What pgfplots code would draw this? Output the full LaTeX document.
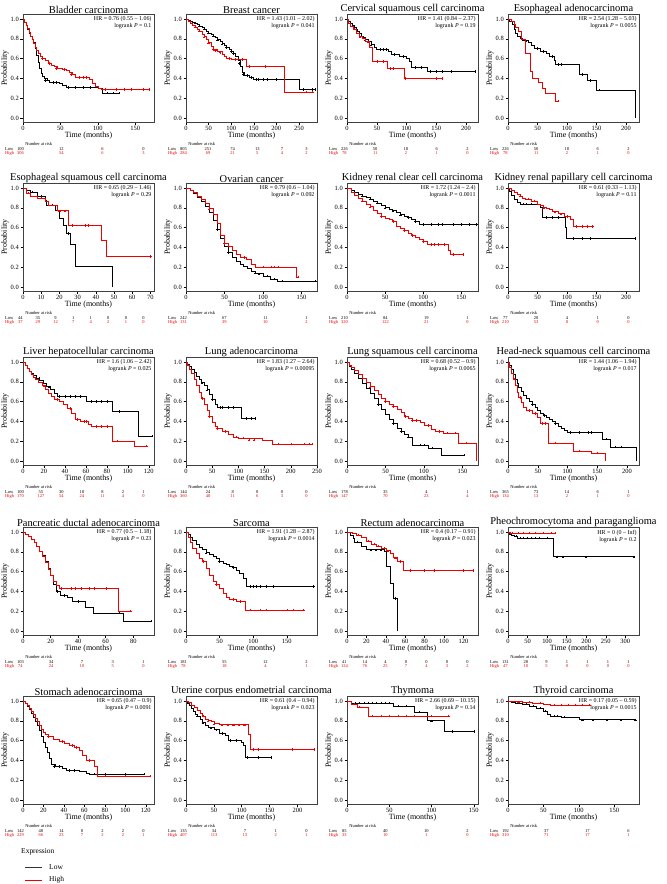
\documentclass[border=0pt]{standalone}
\usepackage{fontspec}
\setmainfont{Liberation Serif}
\usepackage{pgfplots}
\pgfplotsset{compat=1.18}
\usetikzlibrary{calc}
\definecolor{kmred}{RGB}{238,0,0}
\pgfplotsset{
 km/.style={
  scale only axis, width=131bp, height=108bp, anchor=north west,
  xmin=0, ymin=-0.04, ymax=1.05,
  ytick={0,0.2,0.4,0.6,0.8,1},
  yticklabel style={/pgf/number format/.cd, fixed, fixed zerofill, precision=1},
  /pgf/number format/assume math mode=true,
  tick label style={font=\fontsize{6.5}{7}\selectfont, inner sep=1.5bp},
  tick pos=left, tick align=outside, major tick length=2.5bp,
  axis line style={line width=0.9pt, black!75},
  every tick/.style={black, line width=0.5pt},
  xlabel={Time (months)}, ylabel={Probability},
  label style={font=\fontsize{8}{9}\selectfont},
  xlabel style={yshift=4bp}, ylabel style={yshift=-3bp},
  title style={font=\fontsize{10.5}{12}\selectfont, inner sep=1bp, yshift=-6.5pt},
  clip mode=individual,
 }
}
\tikzset{rk/.style={font=\fontsize{4.5}{5}\selectfont, inner sep=0pt}}
\newcommand{\km}[3]{%
 \addplot[const plot, #1, line width=0.6pt, mark=none] coordinates {#2};
 \addplot[only marks, mark=+, mark size=1.2pt, #1, mark options={line width=0.4pt}] coordinates {#3};}
\newcommand{\hr}[2]{\node[anchor=north east, font=\fontsize{6}{7}\selectfont, align=right, inner sep=1bp] at (rel axis cs:0.99,0.985) {HR = #1\\logrank \textit{P} = #2};}
\newcommand{\risktable}[3]{%
 \foreach \v [count=\k] in {#2} {\xdef\rkn{\k}}%
 \foreach \v [count=\k] in {#2} {\node[rk] at ($(#1.south west)!{-0.02+0.94*(\k-1)/(\rkn-1)}!(#1.south east)+(0,-27bp)$) {\v};}%
 \foreach \v [count=\k] in {#3} {\node[rk,kmred] at ($(#1.south west)!{-0.02+0.94*(\k-1)/(\rkn-1)}!(#1.south east)+(0,-31.5bp)$) {\v};}%
 \node[rk] at ($(#1.south west)!0.12!(#1.south east)+(0,-22bp)$) {Number at risk};
 \node[rk,anchor=west] at ($(#1.south west)+(-18bp,-27bp)$) {Low};
 \node[rk,anchor=west,kmred] at ($(#1.south west)+(-18bp,-31.5bp)$) {High};
}
\begin{document}
\begin{tikzpicture}
\useasboundingbox (0,0) rectangle (667bp,-884bp);
% ---------------- Row 1
\begin{axis}[km, name=p1, at={(23bp,-14bp)}, xmax=175, xtick={0,50,100,150}, title={Bladder carcinoma}]
\km{black}{(0,1)(2,0.97)(4,0.94)(6,0.9)(8,0.86)(10,0.82)(12,0.79)(14,0.76)(16,0.7)(18,0.63)(20,0.56)(22,0.5)(24,0.45)(26,0.42)(28,0.4)(32,0.38)(35,0.36)(48,0.35)(52,0.33)(58,0.31)(100,0.3)(106,0.25)(128,0.25)}{(30,0.38)(40,0.36)(45,0.36)(60,0.31)(70,0.31)(80,0.31)(90,0.31)(112,0.25)(120,0.25)(128,0.25)}
\km{kmred}{(0,1)(2,0.97)(4,0.94)(6,0.91)(8,0.87)(10,0.83)(12,0.79)(14,0.75)(16,0.71)(18,0.68)(20,0.65)(23,0.62)(26,0.6)(30,0.58)(34,0.55)(38,0.53)(42,0.52)(46,0.5)(52,0.49)(58,0.48)(62,0.46)(66,0.44)(70,0.41)(88,0.39)(92,0.35)(97,0.32)(100,0.3)(104,0.29)(168,0.29)}{(25,0.6)(35,0.55)(45,0.5)(55,0.49)(65,0.44)(75,0.41)(80,0.41)(85,0.41)(110,0.29)(125,0.29)(135,0.29)(145,0.29)(160,0.29)(168,0.29)}
\hr{0.76 (0.55 -- 1.06)}{0.1}
\end{axis}
\risktable{p1}{100,12,6,0}{306,54,6,3}
\begin{axis}[km, name=p2, at={(186bp,-14bp)}, xmax=290, xtick={0,50,100,150,200,250}, title={Breast cancer}]
\km{black}{(0,1)(5,0.99)(10,0.98)(15,0.97)(20,0.96)(25,0.95)(30,0.93)(35,0.92)(40,0.9)(45,0.88)(50,0.86)(55,0.85)(60,0.83)(65,0.81)(70,0.79)(75,0.77)(80,0.75)(85,0.73)(90,0.71)(95,0.69)(100,0.67)(105,0.65)(110,0.62)(115,0.58)(120,0.52)(125,0.46)(130,0.43)(140,0.41)(150,0.39)(250,0.29)(285,0.29)}{(20,0.96)(30,0.93)(40,0.9)(50,0.86)(60,0.83)(70,0.79)(80,0.75)(90,0.71)(100,0.67)(105,0.65)(118,0.55)(127,0.44)(135,0.43)(145,0.41)(155,0.39)(160,0.39)(170,0.39)(180,0.39)(200,0.39)(260,0.29)(280,0.29)(285,0.29)}
\km{kmred}{(0,1)(5,0.98)(10,0.96)(15,0.94)(20,0.92)(25,0.9)(30,0.88)(35,0.85)(40,0.82)(45,0.79)(50,0.76)(55,0.72)(60,0.69)(70,0.67)(80,0.64)(85,0.62)(90,0.6)(100,0.59)(133,0.52)(217,0.26)(280,0.26)}{(20,0.92)(30,0.88)(40,0.82)(50,0.76)(60,0.69)(65,0.68)(75,0.66)(95,0.6)(110,0.59)(125,0.59)(140,0.52)(175,0.52)(265,0.26)(280,0.26)}
\hr{1.43 (1.01 -- 2.02)}{0.041}
\end{axis}
\risktable{p2}{805,251,74,13,7,3}{284,69,21,5,4,2}
\begin{axis}[km, name=p3, at={(347bp,-14bp)}, xmax=220, xtick={0,50,100,150,200}, title={Cervical squamous cell carcinoma}]
\km{black}{(0,1)(3,0.98)(6,0.96)(9,0.94)(12,0.92)(15,0.9)(18,0.88)(21,0.86)(24,0.83)(27,0.81)(30,0.79)(35,0.77)(40,0.74)(45,0.71)(50,0.69)(70,0.67)(75,0.64)(88,0.62)(100,0.6)(105,0.57)(108,0.51)(135,0.47)(215,0.47)}{(20,0.86)(30,0.79)(40,0.74)(55,0.69)(60,0.69)(65,0.69)(80,0.64)(95,0.62)(115,0.51)(125,0.51)(140,0.47)(150,0.47)(160,0.47)(175,0.47)(215,0.47)}
\km{kmred}{(0,1)(3,0.96)(6,0.93)(10,0.9)(15,0.86)(20,0.82)(25,0.8)(30,0.77)(38,0.71)(43,0.57)(68,0.5)(97,0.4)(160,0.4)}{(12,0.9)(22,0.82)(35,0.77)(50,0.57)(60,0.57)(72,0.5)(78,0.5)(98,0.4)(150,0.4)(160,0.4)}
\hr{1.41 (0.84 -- 2.37)}{0.19}
\end{axis}
\risktable{p3}{226,50,18,6,2}{78,11,2,1,0}
\begin{axis}[km, name=p4, at={(508bp,-14bp)}, xmax=222, xtick={0,50,100,150,200}, title={Esophageal adenocarcinoma}]
\km{black}{(0,1)(3,0.98)(7,0.95)(10,0.9)(13,0.86)(16,0.82)(20,0.8)(25,0.78)(35,0.76)(40,0.73)(45,0.7)(55,0.67)(65,0.65)(70,0.62)(78,0.58)(80,0.54)(120,0.44)(135,0.38)(150,0.28)(215,0)}{(30,0.78)(50,0.7)(60,0.67)(75,0.62)(85,0.54)(90,0.54)(125,0.44)(140,0.38)(155,0.28)}
\km{kmred}{(0,1)(5,0.98)(10,0.95)(13,0.92)(18,0.88)(22,0.79)(30,0.65)(37,0.47)(42,0.4)(52,0.36)(58,0.3)(63,0.25)(80,0.17)(85,0.17)}{(85,0.17)}
\hr{2.54 (1.28 -- 5.03)}{0.0055}
\end{axis}
\risktable{p4}{226,50,18,6,2}{78,11,2,1,0}
% ---------------- Row 2
\begin{axis}[km, name=p5, at={(23bp,-183bp)}, xmax=72, xtick={0,10,20,30,40,50,60,70}, title={Esophageal squamous cell carcinoma}]
\km{black}{(0,1)(2,0.98)(4,0.96)(8,0.92)(12,0.88)(13,0.83)(18,0.77)(20,0.69)(22,0.62)(24,0.54)(26,0.43)(29,0.21)(49,0)}{(5,0.96)(10,0.92)(14,0.83)(16,0.83)(25,0.54)}
\km{kmred}{(0,1)(2,0.95)(4,0.92)(8,0.9)(12,0.87)(14,0.83)(19,0.77)(25,0.62)(43,0.47)(46,0.31)(70,0.31)}{(3,0.95)(10,0.9)(20,0.77)(23,0.77)(27,0.62)(34,0.62)(36,0.62)(70,0.31)}
\hr{0.65 (0.29 -- 1.46)}{0.29}
\end{axis}
\risktable{p5}{44,35,9,1,1,0,0,0}{37,29,12,7,4,2,1,0}
\begin{axis}[km, name=p6, at={(186bp,-183bp)}, xmax=170, xtick={0,50,100,150}, title={Ovarian cancer}]
\km{black}{(0,1)(5,0.98)(10,0.95)(15,0.91)(20,0.87)(25,0.81)(30,0.75)(35,0.67)(40,0.58)(45,0.49)(50,0.41)(55,0.35)(60,0.3)(65,0.26)(70,0.23)(75,0.21)(80,0.19)(85,0.16)(90,0.14)(100,0.11)(110,0.08)(118,0.06)(168,0.06)}{(40,0.58)(55,0.35)(90,0.14)(95,0.13)(105,0.11)(115,0.08)(125,0.06)(168,0.06)}
\km{kmred}{(0,1)(5,0.98)(10,0.96)(15,0.92)(20,0.89)(25,0.85)(30,0.79)(35,0.73)(40,0.64)(45,0.52)(50,0.44)(55,0.41)(60,0.37)(65,0.33)(70,0.3)(78,0.28)(85,0.23)(90,0.2)(143,0.1)(145,0.1)}{(30,0.79)(50,0.44)(75,0.3)(100,0.2)(110,0.2)(115,0.2)(120,0.2)(145,0.1)}
\hr{0.79 (0.6 -- 1.04)}{0.092}
\end{axis}
\risktable{p6}{242,67,11,1}{131,39,10,2}
\begin{axis}[km, name=p7, at={(347bp,-183bp)}, xmax=172, xtick={0,50,100,150}, title={Kidney renal clear cell carcinoma}]
\km{black}{(0,1)(5,0.98)(10,0.96)(15,0.94)(20,0.92)(25,0.91)(30,0.89)(35,0.87)(40,0.85)(45,0.83)(50,0.8)(55,0.78)(60,0.77)(65,0.75)(70,0.73)(75,0.71)(80,0.7)(85,0.68)(90,0.66)(95,0.63)(170,0.63)}{(20,0.92)(30,0.89)(40,0.85)(50,0.8)(60,0.77)(70,0.73)(80,0.7)(90,0.66)(100,0.63)(110,0.63)(120,0.63)(125,0.63)(140,0.63)(150,0.63)(160,0.63)(170,0.63)}
\km{kmred}{(0,1)(5,0.96)(10,0.93)(15,0.9)(20,0.87)(25,0.84)(30,0.81)(35,0.77)(40,0.74)(45,0.71)(50,0.69)(55,0.68)(60,0.66)(65,0.61)(70,0.59)(75,0.57)(80,0.54)(85,0.52)(90,0.5)(95,0.48)(100,0.46)(105,0.43)(133,0.37)(135,0.33)(152,0.33)}{(20,0.87)(30,0.81)(45,0.71)(60,0.66)(75,0.57)(85,0.52)(100,0.46)(110,0.43)(115,0.43)(120,0.43)(128,0.43)(140,0.33)(152,0.33)}
\hr{1.72 (1.24 -- 2.4)}{0.0011}
\end{axis}
\risktable{p7}{210,84,19,1}{320,122,21,0}
\begin{axis}[km, name=p8, at={(508bp,-183bp)}, xmax=222, xtick={0,50,100,150,200}, title={Kidney renal papillary cell carcinoma}]
\km{black}{(0,1)(3,0.97)(6,0.93)(10,0.89)(15,0.86)(20,0.84)(55,0.8)(58,0.7)(97,0.6)(99,0.49)(215,0.49)}{(25,0.84)(30,0.84)(40,0.84)(65,0.7)(75,0.7)(85,0.7)(110,0.49)(125,0.49)(140,0.49)(215,0.49)}
\km{kmred}{(0,1)(5,0.98)(10,0.96)(15,0.94)(20,0.92)(25,0.9)(30,0.89)(40,0.87)(50,0.84)(55,0.82)(60,0.8)(65,0.79)(70,0.78)(75,0.76)(85,0.74)(95,0.71)(105,0.68)(110,0.61)(143,0.61)}{(20,0.92)(35,0.89)(45,0.87)(60,0.8)(80,0.76)(90,0.74)(100,0.71)(115,0.61)(125,0.61)(135,0.61)(143,0.61)}
\hr{0.61 (0.33 -- 1.13)}{0.11}
\end{axis}
\risktable{p8}{77,20,4,1,0}{210,53,8,0,0}
% ---------------- Row 3
\begin{axis}[km, name=p9, at={(23bp,-357bp)}, xmax=125, xtick={0,20,40,60,80,100,120}, title={Liver hepatocellular carcinoma}]
\km{black}{(0,1)(2,0.97)(4,0.94)(6,0.91)(8,0.89)(10,0.87)(13,0.84)(16,0.81)(19,0.78)(22,0.75)(26,0.72)(30,0.68)(33,0.65)(60,0.6)(85,0.5)(110,0.25)(123,0.25)}{(15,0.84)(25,0.75)(35,0.65)(40,0.65)(45,0.65)(50,0.65)(55,0.65)(65,0.6)(70,0.6)(75,0.6)(80,0.6)(92,0.5)(123,0.25)}
\km{kmred}{(0,1)(2,0.97)(4,0.94)(6,0.91)(8,0.88)(10,0.85)(12,0.82)(15,0.79)(18,0.76)(21,0.72)(24,0.68)(27,0.65)(30,0.62)(35,0.6)(38,0.57)(42,0.53)(46,0.48)(50,0.42)(55,0.4)(62,0.37)(65,0.35)(85,0.2)(106,0.15)(118,0.15)}{(20,0.76)(33,0.62)(45,0.53)(52,0.42)(58,0.4)(60,0.4)(70,0.35)(75,0.35)(80,0.35)(90,0.2)(118,0.15)}
\hr{1.6 (1.06 -- 2.42)}{0.025}
\end{axis}
\risktable{p9}{100,55,30,18,8,2,1}{170,127,54,24,11,4,0}
\begin{axis}[km, name=p10, at={(186bp,-357bp)}, xmax=250, xtick={0,50,100,150,200,250}, title={Lung adenocarcinoma}]
\km{black}{(0,1)(3,0.98)(6,0.96)(10,0.93)(15,0.9)(20,0.86)(25,0.82)(30,0.79)(35,0.76)(40,0.72)(45,0.67)(50,0.62)(55,0.57)(60,0.54)(105,0.43)(132,0.43)}{(30,0.79)(40,0.72)(50,0.62)(65,0.54)(70,0.54)(80,0.54)(90,0.54)(115,0.43)(125,0.43)(132,0.43)}
\km{kmred}{(0,1)(3,0.97)(6,0.93)(10,0.89)(15,0.82)(20,0.76)(25,0.69)(30,0.63)(35,0.57)(40,0.51)(45,0.45)(50,0.39)(55,0.35)(60,0.33)(70,0.3)(80,0.27)(90,0.24)(100,0.23)(145,0.21)(165,0.17)(240,0.17)}{(30,0.63)(45,0.45)(60,0.33)(75,0.3)(95,0.24)(110,0.23)(120,0.21)(130,0.21)(175,0.17)(200,0.17)(225,0.17)(235,0.17)(240,0.17)}
\hr{1.83 (1.27 -- 2.64)}{0.00095}
\end{axis}
\risktable{p10}{144,24,8,0,0,0}{360,48,11,6,3,0}
\begin{axis}[km, name=p11, at={(347bp,-357bp)}, xmax=170, xtick={0,50,100,150}, title={Lung squamous cell carcinoma}]
\km{black}{(0,1)(3,0.96)(6,0.93)(10,0.89)(15,0.84)(20,0.78)(25,0.73)(30,0.68)(35,0.63)(40,0.57)(45,0.52)(50,0.47)(55,0.42)(60,0.38)(65,0.33)(70,0.3)(75,0.27)(80,0.24)(85,0.16)(105,0.13)(122,0.06)(152,0.06)}{(40,0.57)(60,0.38)(70,0.3)(80,0.24)(95,0.16)(100,0.16)(110,0.13)(152,0.06)}
\km{kmred}{(0,1)(3,0.97)(6,0.95)(10,0.92)(15,0.88)(20,0.84)(25,0.79)(30,0.75)(35,0.71)(40,0.67)(45,0.63)(50,0.6)(55,0.57)(60,0.55)(65,0.52)(70,0.49)(75,0.45)(80,0.43)(85,0.41)(95,0.39)(100,0.36)(110,0.32)(115,0.3)(125,0.28)(145,0.18)(168,0)}{(30,0.75)(50,0.6)(60,0.55)(75,0.45)(85,0.41)(90,0.41)(105,0.36)(120,0.3)(130,0.28)(140,0.28)(155,0.18)}
\hr{0.68 (0.52 -- 0.9)}{0.0065}
\end{axis}
\risktable{p11}{178,35,4,1}{147,70,23,4}
\begin{axis}[km, name=p12, at={(508bp,-357bp)}, xmax=220, xtick={0,50,100,150,200}, title={Head-neck squamous cell carcinoma}]
\km{black}{(0,1)(3,0.97)(6,0.93)(9,0.88)(12,0.83)(15,0.78)(18,0.74)(22,0.7)(26,0.66)(30,0.63)(35,0.6)(40,0.57)(45,0.54)(50,0.51)(55,0.48)(60,0.46)(65,0.44)(70,0.42)(75,0.4)(80,0.38)(85,0.35)(90,0.33)(95,0.31)(100,0.29)(158,0.22)(172,0.14)(215,0)}{(40,0.57)(60,0.46)(80,0.38)(105,0.29)(120,0.29)(135,0.29)(140,0.29)(165,0.22)(180,0.14)(190,0.14)}
\km{kmred}{(0,1)(3,0.95)(6,0.89)(9,0.83)(12,0.76)(15,0.69)(18,0.64)(22,0.59)(26,0.54)(30,0.51)(40,0.48)(50,0.44)(55,0.38)(68,0.18)(110,0.1)(140,0.08)(163,0)}{(10,0.83)(20,0.64)(35,0.51)(45,0.48)(58,0.38)(62,0.38)(80,0.18)(120,0.1)(150,0.08)}
\hr{1.44 (1.06 -- 1.94)}{0.017}
\end{axis}
\risktable{p12}{365,73,14,6,1}{134,13,2,1,0}
% ---------------- Row 4
\begin{axis}[km, name=p13, at={(23bp,-527bp)}, xmax=95, xtick={0,20,40,60,80}, title={Pancreatic ductal adenocarcinoma}]
\km{black}{(0,1)(2,0.98)(4,0.96)(6,0.93)(8,0.9)(10,0.86)(12,0.8)(14,0.76)(16,0.7)(18,0.63)(20,0.56)(22,0.47)(24,0.4)(27,0.36)(32,0.34)(36,0.3)(45,0.24)(51,0.18)(73,0.1)(93,0.1)}{(25,0.4)(30,0.36)(40,0.3)(70,0.18)(93,0.1)}
\km{kmred}{(0,1)(2,0.98)(4,0.96)(6,0.93)(8,0.9)(10,0.86)(12,0.8)(14,0.75)(16,0.69)(18,0.62)(20,0.56)(22,0.5)(24,0.46)(26,0.43)(69,0.2)(78,0.2)}{(28,0.43)(35,0.43)(38,0.43)(42,0.43)(48,0.43)(52,0.43)(60,0.43)(78,0.2)}
\hr{0.77 (0.5 -- 1.18)}{0.23}
\end{axis}
\risktable{p13}{103,34,7,3,1}{74,24,10,5,0}
\begin{axis}[km, name=p14, at={(186bp,-527bp)}, xmax=195, xtick={0,50,100,150}, title={Sarcoma}]
\km{black}{(0,1)(3,0.98)(6,0.95)(10,0.92)(15,0.88)(20,0.85)(25,0.82)(30,0.79)(35,0.77)(40,0.75)(45,0.73)(50,0.7)(55,0.68)(60,0.67)(65,0.65)(70,0.64)(75,0.61)(80,0.58)(85,0.53)(90,0.45)(190,0.45)}{(30,0.79)(50,0.7)(70,0.64)(95,0.45)(100,0.45)(105,0.45)(110,0.45)(120,0.45)(130,0.45)(190,0.45)}
\km{kmred}{(0,1)(3,0.95)(6,0.9)(10,0.84)(15,0.78)(20,0.73)(25,0.7)(30,0.63)(35,0.56)(40,0.5)(45,0.47)(50,0.43)(55,0.38)(60,0.34)(65,0.32)(75,0.3)(88,0.21)(175,0.21)}{(25,0.7)(45,0.47)(70,0.32)(80,0.3)(95,0.21)(110,0.21)(120,0.21)(150,0.21)(160,0.21)(175,0.21)}
\hr{1.91 (1.28 -- 2.87)}{0.0014}
\end{axis}
\risktable{p14}{181,55,12,2}{78,18,4,1}
\begin{axis}[km, name=p15, at={(347bp,-527bp)}, xmax=135, xtick={0,20,40,60,80,100,120}, title={Rectum adenocarcinoma}]
\km{black}{(0,1)(3,0.97)(6,0.94)(8,0.9)(15,0.86)(20,0.82)(38,0.8)(40,0.65)(45,0.48)(48,0.33)(52,0)}{(10,0.9)(25,0.82)(30,0.82)(35,0.82)(50,0.33)}
\km{kmred}{(0,1)(5,0.99)(10,0.97)(15,0.95)(20,0.91)(25,0.88)(30,0.86)(35,0.84)(40,0.81)(45,0.78)(48,0.74)(52,0.7)(58,0.61)(130,0.61)}{(12,0.97)(22,0.91)(28,0.88)(32,0.86)(38,0.84)(42,0.81)(50,0.74)(55,0.7)(65,0.61)(80,0.61)(90,0.61)(120,0.61)(130,0.61)}
\hr{0.4 (0.17 -- 0.91)}{0.023}
\end{axis}
\risktable{p15}{41,14,4,0,0,0,0}{124,76,25,7,4,3,2}
\begin{axis}[km, name=p16, at={(508bp,-527bp)}, xmax=335, xtick={0,50,100,150,200,250,300}, title={Pheochromocytoma and paraganglioma}]
\km{black}{(0,1)(3,0.98)(8,0.97)(15,0.96)(25,0.94)(115,0.75)(322,0.75)}{(20,0.96)(30,0.94)(40,0.94)(50,0.94)(60,0.94)(70,0.94)(80,0.94)(100,0.94)(125,0.75)(140,0.75)(200,0.75)(322,0.75)}
\km{kmred}{(0,1)(5,0.99)(120,0.99)}{(10,0.99)(25,0.99)(40,0.99)(55,0.99)(70,0.99)(90,0.99)(110,0.99)(120,0.99)}
\hr{0 (0 -- Inf)}{0.2}
\end{axis}
\risktable{p16}{131,28,9,1,1,1,1}{47,10,5,0,0,0,0}
% ---------------- Row 5
\begin{axis}[km, name=p17, at={(23bp,-696bp)}, xmax=128, xtick={0,20,40,60,80,100,120}, title={Stomach adenocarcinoma}]
\km{black}{(0,1)(2,0.98)(4,0.95)(6,0.92)(8,0.88)(10,0.84)(12,0.79)(14,0.75)(16,0.7)(18,0.64)(20,0.58)(22,0.53)(24,0.48)(26,0.42)(28,0.36)(32,0.34)(38,0.32)(42,0.3)(55,0.29)(62,0.27)(65,0.26)(118,0.26)}{(30,0.34)(35,0.34)(45,0.3)(50,0.3)(70,0.26)(80,0.26)(100,0.26)(118,0.26)}
\km{kmred}{(0,1)(2,0.98)(4,0.96)(6,0.93)(8,0.9)(10,0.87)(12,0.83)(14,0.79)(16,0.75)(18,0.71)(20,0.68)(22,0.66)(25,0.64)(30,0.61)(35,0.59)(40,0.57)(45,0.55)(50,0.53)(55,0.5)(58,0.45)(62,0.4)(70,0.34)(73,0.24)(124,0.24)}{(25,0.64)(38,0.59)(48,0.55)(52,0.53)(65,0.4)(80,0.24)(100,0.24)(124,0.24)}
\hr{0.65 (0.47 -- 0.9)}{0.0091}
\end{axis}
\risktable{p17}{142,48,14,8,2,2,0}{229,66,23,7,2,2,1}
\begin{axis}[km, name=p18, at={(186bp,-696bp)}, xmax=235, xtick={0,50,100,150,200}, title={Uterine corpus endometrial carcinoma}]
\km{black}{(0,1)(3,0.98)(6,0.96)(10,0.93)(13,0.9)(16,0.87)(20,0.85)(25,0.81)(30,0.78)(35,0.75)(40,0.73)(50,0.71)(60,0.67)(70,0.65)(75,0.6)(100,0.58)(103,0.55)(107,0.43)(152,0.43)}{(20,0.85)(30,0.78)(45,0.73)(55,0.71)(65,0.67)(80,0.6)(90,0.6)(110,0.43)(130,0.43)(152,0.43)}
\km{kmred}{(0,1)(5,0.99)(10,0.96)(15,0.94)(20,0.91)(25,0.88)(30,0.85)(35,0.82)(40,0.8)(45,0.79)(50,0.77)(60,0.76)(112,0.66)(115,0.51)(230,0.51)}{(30,0.85)(40,0.8)(50,0.77)(65,0.76)(75,0.76)(85,0.76)(95,0.76)(105,0.76)(120,0.51)(130,0.51)(190,0.51)(230,0.51)}
\hr{0.61 (0.4 -- 0.94)}{0.023}
\end{axis}
\risktable{p18}{135,34,7,1,0}{407,113,13,2,1}
\begin{axis}[km, name=p19, at={(347bp,-696bp)}, xmax=155, xtick={0,50,100,150}, title={Thymoma}]
\km{black}{(0,1)(5,0.98)(55,0.95)(80,0.89)(95,0.8)(115,0.69)(150,0.69)}{(10,0.98)(15,0.98)(20,0.98)(25,0.98)(30,0.98)(35,0.98)(40,0.98)(45,0.98)(50,0.98)(60,0.95)(70,0.95)(85,0.89)(100,0.8)(125,0.69)(150,0.69)}
\km{kmred}{(0,1)(5,0.97)(12,0.94)(25,0.85)(120,0.85)}{(8,0.97)(15,0.94)(30,0.85)(40,0.85)(50,0.85)(60,0.85)(70,0.85)(80,0.85)(100,0.85)(120,0.85)}
\hr{2.66 (0.69 -- 10.15)}{0.14}
\end{axis}
\risktable{p19}{85,40,10,2}{33,10,1,0}
\begin{axis}[km, name=p20, at={(508bp,-696bp)}, xmax=185, xtick={0,50,100,150}, title={Thyroid carcinoma}]
\km{black}{(0,1)(5,0.99)(10,0.98)(20,0.97)(30,0.95)(40,0.93)(50,0.9)(55,0.87)(60,0.85)(75,0.84)(100,0.81)(180,0.81)}{(15,0.98)(25,0.97)(35,0.95)(45,0.93)(52,0.9)(65,0.85)(70,0.85)(80,0.84)(105,0.81)(120,0.81)(140,0.81)(160,0.81)(180,0.81)}
\km{kmred}{(0,1)(10,0.995)(20,0.99)(35,0.98)(50,0.97)(60,0.96)(115,0.96)}{(15,0.99)(30,0.99)(45,0.98)(65,0.96)(75,0.96)(85,0.96)(95,0.96)(105,0.96)(115,0.96)}
\hr{0.17 (0.05 -- 0.59)}{0.0015}
\end{axis}
\risktable{p20}{192,37,17,6}{310,71,17,1}
% ---------------- Legend
\node[anchor=west, font=\fontsize{7.5}{9}\selectfont, inner sep=0pt] at (21bp,-852bp) {Expression};
\draw[black!80, line width=0.7pt] (25bp,-867bp) -- (42bp,-867bp);
\node[anchor=west, font=\fontsize{7.5}{9}\selectfont, inner sep=0pt] at (49bp,-867bp) {Low};
\draw[kmred, line width=0.7pt] (25bp,-880bp) -- (42bp,-880bp);
\node[anchor=west, font=\fontsize{7.5}{9}\selectfont, inner sep=0pt] at (49bp,-880bp) {High};
\end{tikzpicture}
\end{document}
